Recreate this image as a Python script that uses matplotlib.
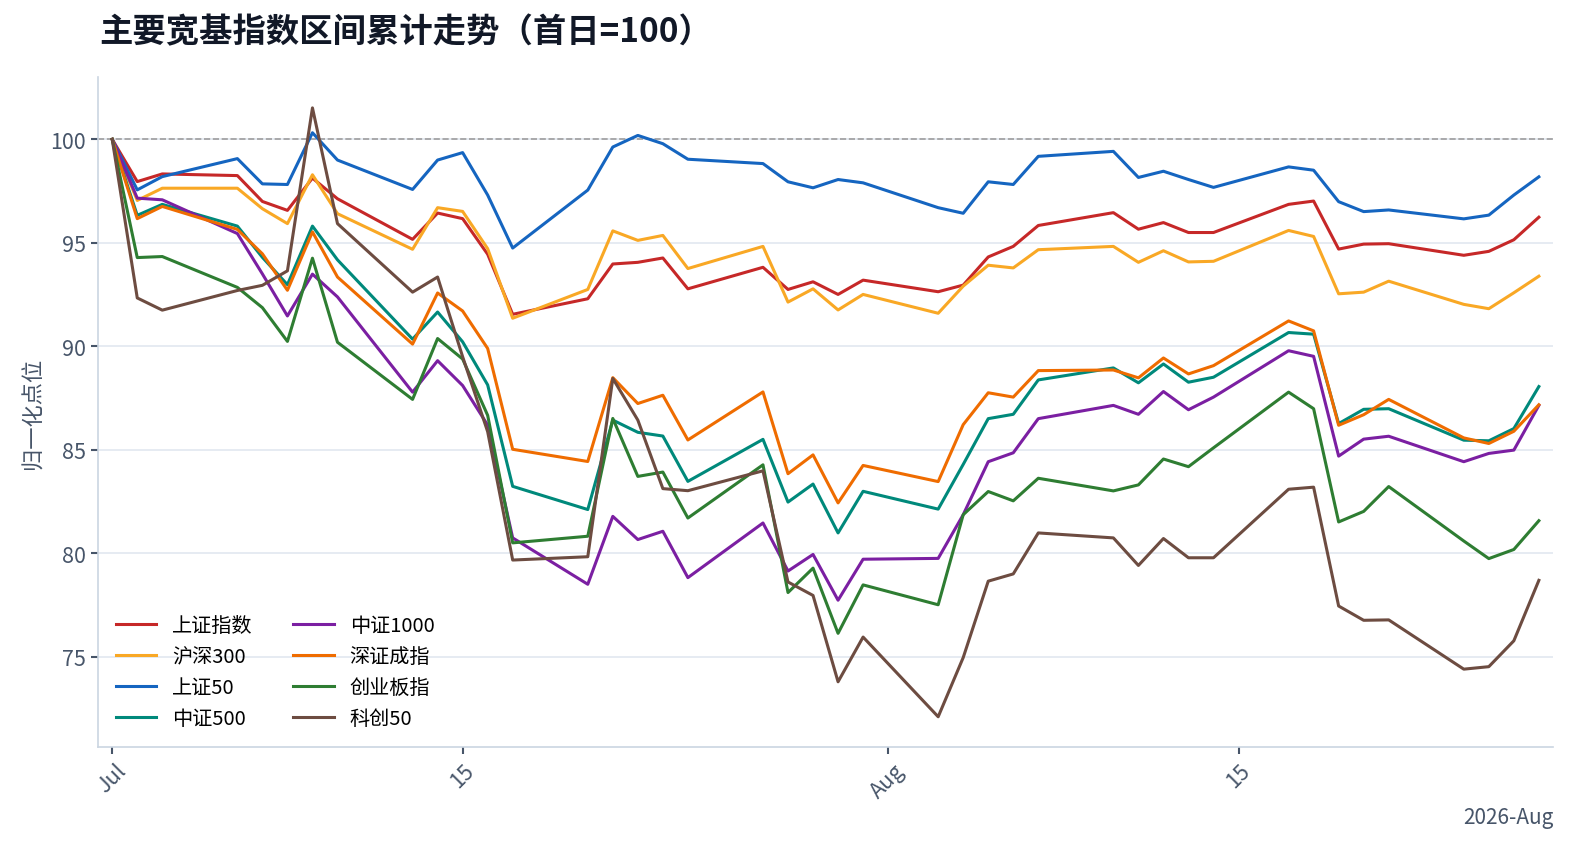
import matplotlib
matplotlib.use('Agg')
import matplotlib.pyplot as plt
import matplotlib.dates as mdates
import pandas as pd

plt.rcParams['font.family'] = ['Noto Sans CJK SC', 'DejaVu Sans']
plt.rcParams['axes.unicode_minus'] = False

# 交易日
dates = pd.to_datetime([
    '2026-07-01', '2026-07-02', '2026-07-03',
    '2026-07-06', '2026-07-07', '2026-07-08', '2026-07-09', '2026-07-10',
    '2026-07-13', '2026-07-14', '2026-07-15', '2026-07-16', '2026-07-17',
    '2026-07-20', '2026-07-21', '2026-07-22', '2026-07-23', '2026-07-24',
    '2026-07-27', '2026-07-28', '2026-07-29', '2026-07-30', '2026-07-31',
    '2026-08-03', '2026-08-04', '2026-08-05', '2026-08-06', '2026-08-07',
    '2026-08-10', '2026-08-11', '2026-08-12', '2026-08-13', '2026-08-14',
    '2026-08-17', '2026-08-18', '2026-08-19', '2026-08-20', '2026-08-21',
    '2026-08-24', '2026-08-25', '2026-08-26', '2026-08-27',
])

sh_composite = [100, 97.96, 98.33, 98.25, 97.00, 96.57, 98.13, 97.13, 95.17, 96.44,
                96.17, 94.45, 91.55, 92.30, 93.98, 94.06, 94.27, 92.78, 93.82, 92.75,
                93.12, 92.51, 93.20, 92.64, 92.96, 94.32, 94.83, 95.84, 96.46, 95.66,
                95.98, 95.50, 95.50, 96.86, 97.02, 94.70, 94.94, 94.96, 94.40, 94.59,
                95.15, 96.24]
hs300 = [100, 97.05, 97.64, 97.64, 96.65, 95.93, 98.29, 96.41, 94.69, 96.70,
         96.52, 94.72, 91.36, 92.75, 95.58, 95.12, 95.36, 93.76, 94.83, 92.14,
         92.78, 91.76, 92.51, 91.60, 92.91, 93.92, 93.79, 94.67, 94.83, 94.06,
         94.62, 94.08, 94.11, 95.60, 95.31, 92.54, 92.62, 93.15, 92.03, 91.82,
         92.59, 93.39]
sz50 = [100, 97.56, 98.20, 99.07, 97.85, 97.82, 100.32, 99.00, 97.58, 99.00,
        99.36, 97.31, 94.75, 97.55, 99.63, 100.19, 99.79, 99.04, 98.83, 97.95,
        97.66, 98.06, 97.90, 96.70, 96.43, 97.95, 97.82, 99.18, 99.42, 98.16,
        98.46, 98.06, 97.68, 98.67, 98.51, 96.99, 96.51, 96.59, 96.16, 96.34,
        97.31, 98.19]
zz500 = [100, 96.33, 96.86, 95.81, 94.30, 92.98, 95.81, 94.18, 90.35, 91.66,
         90.22, 88.14, 83.24, 82.12, 86.44, 85.85, 85.67, 83.48, 85.51, 82.48,
         83.35, 80.99, 83.00, 82.14, 84.30, 86.51, 86.72, 88.38, 88.96, 88.24,
         89.15, 88.27, 88.51, 90.67, 90.59, 86.27, 86.96, 86.99, 85.47, 85.44,
         86.03, 88.06]
zz1000 = [100, 97.16, 97.08, 95.45, 93.50, 91.47, 93.49, 92.39, 87.79, 89.31,
          88.11, 86.20, 80.75, 78.51, 81.79, 80.67, 81.07, 78.83, 81.47, 79.15,
          79.95, 77.74, 79.72, 79.76, 81.87, 84.43, 84.86, 86.51, 87.15, 86.72,
          87.82, 86.94, 87.55, 89.79, 89.52, 84.70, 85.52, 85.66, 84.43, 84.83,
          84.99, 87.15]
szcz = [100, 96.17, 96.76, 95.65, 94.47, 92.71, 95.53, 93.35, 90.11, 92.58,
        91.71, 89.90, 85.03, 84.44, 88.49, 87.24, 87.64, 85.48, 87.80, 83.85,
        84.76, 82.44, 84.25, 83.47, 86.22, 87.76, 87.55, 88.83, 88.86, 88.48,
        89.44, 88.67, 89.07, 91.23, 90.75, 86.19, 86.70, 87.44, 85.58, 85.31,
        85.90, 87.18]
cyb = [100, 94.29, 94.34, 92.85, 91.87, 90.24, 94.26, 90.20, 87.44, 90.38,
       89.39, 86.67, 80.51, 80.83, 86.52, 83.72, 83.93, 81.71, 84.28, 78.11,
       79.29, 76.14, 78.48, 77.52, 81.87, 82.99, 82.54, 83.63, 83.02, 83.31,
       84.56, 84.19, 85.10, 87.79, 86.99, 81.52, 82.03, 83.23, 80.60, 79.75,
       80.19, 81.58]
kc50 = [100, 92.34, 91.75, 92.70, 92.95, 93.65, 101.52, 95.93, 92.62, 93.35,
        89.50, 85.88, 79.68, 79.84, 88.45, 86.44, 83.13, 83.03, 83.99, 78.62,
        77.97, 73.80, 75.96, 72.11, 74.97, 78.66, 79.01, 80.99, 80.75, 79.42,
        80.72, 79.79, 79.79, 83.10, 83.20, 77.46, 76.77, 76.79, 74.41, 74.53,
        75.78, 78.70]

names = ['上证指数', '沪深300', '上证50', '中证500', '中证1000', '深证成指', '创业板指', '科创50']
series = [sh_composite, hs300, sz50, zz500, zz1000, szcz, cyb, kc50]
colors = ['#c62828', '#f9a825', '#1565c0', '#00897b', '#7b1fa2', '#ef6c00', '#2e7d32', '#6d4c41']

fig = plt.figure(figsize=(15.8, 8.62), dpi=100, facecolor='white')
ax = fig.add_subplot(111)
fig.subplots_adjust(left=0.062, right=0.983, top=0.909, bottom=0.132)

ax.axhline(100, color='#9e9e9e', lw=1.2, ls='--', zorder=1)
for name, vals, c in zip(names, series, colors):
    ax.plot(dates, vals, color=c, lw=2.2, label=name, zorder=3)

ax.margins(x=0.01)
ax.set_yticks([75, 80, 85, 90, 95, 100])
ax.grid(axis='y', color='#e2e8f0', lw=1.2)
ax.set_axisbelow(True)

locator = mdates.DayLocator(bymonthday=[1, 15])
ax.xaxis.set_major_locator(locator)
ax.xaxis.set_major_formatter(mdates.ConciseDateFormatter(locator))
plt.setp(ax.get_xticklabels(), rotation=45)

for s in ['top', 'right']:
    ax.spines[s].set_visible(False)
for s in ['left', 'bottom']:
    ax.spines[s].set_color('#cbd5e1')
    ax.spines[s].set_linewidth(1.2)
ax.tick_params(colors='#475569', labelsize=15.5, length=5, width=1.5)
ax.xaxis.get_offset_text().set_fontsize(15)
ax.xaxis.get_offset_text().set_color('#475569')

ax.set_ylabel('归一化点位', fontsize=16, color='#475569')
fig.text(0.063, 0.962, '主要宽基指数区间累计走势（首日=100）', fontsize=24,
         fontweight='bold', color='#111827', va='center', ha='left')

ax.legend(loc='lower left', ncol=2, frameon=False, fontsize=14.5)

fig.savefig('out.png', dpi=100, facecolor='white')
